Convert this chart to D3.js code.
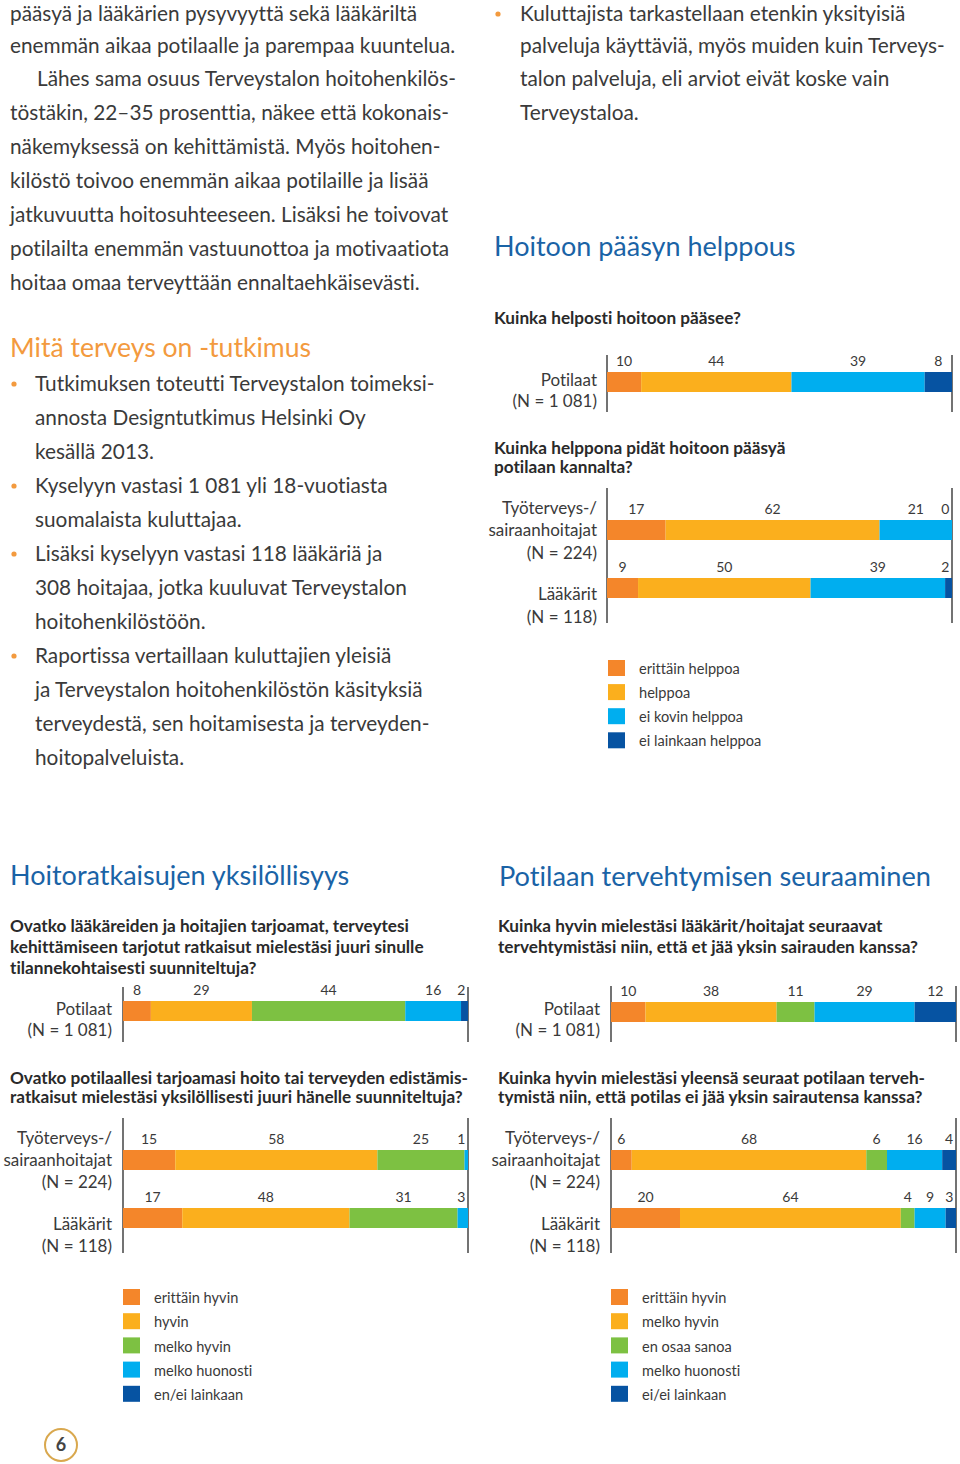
<!DOCTYPE html>
<html><head><meta charset="utf-8">
<script src="https://cdn.jsdelivr.net/npm/d3@7"></script>
<style>
html,body{margin:0;padding:0;background:#fff;}
svg{display:block;font-family:Lato,"Open Sans",sans-serif;font-variant-ligatures:none;}
</style></head>
<body>
<svg id="page" width="960" height="1464"></svg>
<script>
// ---------- DATA ----------
const accessKeys = ["erittäin helppoa","helppoa","ei kovin helppoa","ei lainkaan helppoa"];
const accessColors = ["#F4862A","#FBAF1D","#00AEEF","#0653A2"];
const accessPatients = [10,44,39,8];
const accessNurses = [17,62,21,0];
const accessDoctors = [9,50,39,2];

const indivKeys = ["erittäin hyvin","hyvin","melko hyvin","melko huonosti","en/ei lainkaan"];
const indivColors = ["#F4862A","#FBAF1D","#7DC142","#00AEEF","#0653A2"];
const indivPatients = [8,29,44,16,2];
const indivNurses = [15,58,25,1,null];
const indivDoctors = [17,48,31,3,null];

const followKeys = ["erittäin hyvin","melko hyvin","en osaa sanoa","melko huonosti","ei/ei lainkaan"];
const followColors = ["#F4862A","#FBAF1D","#7DC142","#00AEEF","#0653A2"];
const followPatients = [10,38,11,29,12];
const followNurses = [6,68,6,16,4];
const followDoctors = [20,64,4,9,3];

const groupPatients = ["Potilaat","(N = 1 081)"];
const groupNurses = ["Työterveys-/","sairaanhoitajat","(N = 224)"];
const groupDoctors = ["Lääkärit","(N = 118)"];

// ---------- TEXT ----------
const bodyLeft = [
  {t:"pääsyä ja lääkärien pysyvyyttä sekä lääkäriltä", x:10, y:14},
  {t:"enemmän aikaa potilaalle ja parempaa kuuntelua.", x:10, y:46},
  {t:"Lähes sama osuus Terveystalon hoitohenkilös-", x:37, y:79},
  {t:"töstäkin, 22–35 prosenttia, näkee että kokonais-", x:10, y:113},
  {t:"näkemyksessä on kehittämistä. Myös hoitohen-", x:10, y:147},
  {t:"kilöstö toivoo enemmän aikaa potilaille ja lisää", x:10, y:181},
  {t:"jatkuvuutta hoitosuhteeseen. Lisäksi he toivovat", x:10, y:215},
  {t:"potilailta enemmän vastuunottoa ja motivaatiota", x:10, y:249},
  {t:"hoitaa omaa terveyttään ennaltaehkäisevästi.", x:10, y:283}
];
const bulletsLeft = [
  {t:"Tutkimuksen toteutti Terveystalon toimeksi-", y:384, b:true},
  {t:"annosta Designtutkimus Helsinki Oy", y:418},
  {t:"kesällä 2013.", y:452},
  {t:"Kyselyyn vastasi 1 081 yli 18-vuotiasta", y:486, b:true},
  {t:"suomalaista kuluttajaa.", y:520},
  {t:"Lisäksi kyselyyn vastasi 118 lääkäriä ja", y:554, b:true},
  {t:"308 hoitajaa, jotka kuuluvat Terveystalon", y:588},
  {t:"hoitohenkilöstöön.", y:622},
  {t:"Raportissa vertaillaan kuluttajien yleisiä", y:656, b:true},
  {t:"ja Terveystalon hoitohenkilöstön käsityksiä", y:690},
  {t:"terveydestä, sen hoitamisesta ja terveyden-", y:724},
  {t:"hoitopalveluista.", y:758}
];
const bulletsRight = [
  {t:"Kuluttajista tarkastellaan etenkin yksityisiä", y:14, b:true},
  {t:"palveluja käyttäviä, myös muiden kuin Terveys-", y:46},
  {t:"talon palveluja, eli arviot eivät koske vain", y:79},
  {t:"Terveystaloa.", y:113}
];

const svg = d3.select("#page");
const textCol = "#3a3a3a";
const blue = "#1a63a6";
const orange = "#F39A3E";
const bodySize = 20.8;

function line(x, y, t, size, opts={}) {
  return svg.append("text")
    .attr("x", x).attr("y", y).attr("dy", "0.35em")
    .attr("font-size", size)
    .attr("font-weight", opts.bold ? 700 : 400)
    .attr("fill", opts.fill || textCol)
    .attr("text-anchor", opts.anchor || "start")
    .text(t);
}

// body text
bodyLeft.forEach(d => line(d.x, d.y, d.t, bodySize));
bulletsLeft.forEach(d => {
  line(35, d.y, d.t, bodySize);
  if (d.b) svg.append("circle").attr("cx", 14).attr("cy", d.y).attr("r", 2.6).attr("fill", orange);
});
bulletsRight.forEach(d => {
  line(520, d.y, d.t, bodySize);
  if (d.b) svg.append("circle").attr("cx", 498).attr("cy", d.y).attr("r", 2.6).attr("fill", orange);
});

// headings
line(10, 348, "Mitä terveys on -tutkimus", 26.6, {fill: orange});
line(494, 247, "Hoitoon pääsyn helppous", 27, {fill: blue});
line(10, 876, "Hoitoratkaisujen yksilöllisyys", 27, {fill: blue});
line(499, 876, "Potilaan tervehtymisen seuraaminen", 27.2, {fill: blue});

// questions
const qs = [
  [494, 318, "Kuinka helposti hoitoon pääsee?"],
  [494, 448, "Kuinka helppona pidät hoitoon pääsyä"],
  [494, 467, "potilaan kannalta?"],
  [10, 926, "Ovatko lääkäreiden ja hoitajien tarjoamat, terveytesi"],
  [10, 947, "kehittämiseen tarjotut ratkaisut mielestäsi juuri sinulle"],
  [10, 968, "tilannekohtaisesti suunniteltuja?"],
  [10, 1078, "Ovatko potilaallesi tarjoamasi hoito tai terveyden edistämis-"],
  [10, 1097, "ratkaisut mielestäsi yksilöllisesti juuri hänelle suunniteltuja?"],
  [498, 926, "Kuinka hyvin mielestäsi lääkärit/hoitajat seuraavat"],
  [498, 947, "tervehtymistäsi niin, että et jää yksin sairauden kanssa?"],
  [498, 1078, "Kuinka hyvin mielestäsi yleensä seuraat potilaan terveh-"],
  [498, 1097, "tymistä niin, että potilas ei jää yksin sairautensa kanssa?"]
];
qs.forEach(q => line(q[0], q[1], q[2], 17.2, {bold: true, fill: "#2a2a2a"}));

// ---------- CHARTS ----------
function chart(cfg) {
  const g = svg.append("g");
  [cfg.x0, cfg.x1].forEach(x => g.append("line")
    .attr("x1", x).attr("x2", x).attr("y1", cfg.axisTop).attr("y2", cfg.axisBottom)
    .attr("stroke", "#444").attr("stroke-width", 1.5));
  cfg.rows.forEach(row => {
    const total = d3.sum(row.values.map(v => v || 0));
    const x = d3.scaleLinear().domain([0, total]).range([cfg.x0, cfg.x1]);
    let acc = 0;
    const segs = row.values.map((v, i) => {
      const s = {v, i, a: acc, b: acc + (v || 0)}; acc += (v || 0); return s;
    });
    g.selectAll(null).data(segs.filter(s => s.v)).join("rect")
      .attr("x", s => x(s.a)).attr("width", s => x(s.b) - x(s.a))
      .attr("y", row.barY).attr("height", 20)
      .attr("fill", s => cfg.colors[s.i]);
    g.selectAll(null).data(segs.filter(s => s.v !== null)).join("text")
      .attr("x", s => Math.min((x(s.a) + x(s.b)) / 2, cfg.x1 - 3 - String(s.v).length * 3.6))
      .attr("y", row.barY - 6)
      .attr("text-anchor", "middle")
      .attr("font-size", 14).attr("fill", textCol)
      .text(s => s.v);
    row.labels.forEach((t, k) => line(cfg.labelX, row.labelYs[k], t, 17, {anchor: "end"}));
  });
}

chart({x0:607, x1:952, axisTop:355, axisBottom:412, labelX:597, colors:accessColors,
  rows:[{values:accessPatients, barY:372, labels:groupPatients, labelYs:[380,401]}]});
chart({x0:607, x1:952, axisTop:488, axisBottom:623, labelX:597, colors:accessColors,
  rows:[{values:accessNurses, barY:520, labels:groupNurses, labelYs:[508,530,553]},
        {values:accessDoctors, barY:578, labels:groupDoctors, labelYs:[594,617]}]});
chart({x0:123, x1:468, axisTop:987, axisBottom:1042, labelX:112, colors:indivColors,
  rows:[{values:indivPatients, barY:1001, labels:groupPatients, labelYs:[1009,1030]}]});
chart({x0:123, x1:468, axisTop:1118, axisBottom:1253, labelX:112, colors:indivColors,
  rows:[{values:indivNurses, barY:1150, labels:groupNurses, labelYs:[1138,1160,1182]},
        {values:indivDoctors, barY:1208, labels:groupDoctors, labelYs:[1224,1246]}]});
chart({x0:611, x1:956, axisTop:986, axisBottom:1042, labelX:600, colors:followColors,
  rows:[{values:followPatients, barY:1002, labels:groupPatients, labelYs:[1009,1030]}]});
chart({x0:611, x1:956, axisTop:1118, axisBottom:1253, labelX:600, colors:followColors,
  rows:[{values:followNurses, barY:1150, labels:groupNurses, labelYs:[1138,1160,1182]},
        {values:followDoctors, barY:1208, labels:groupDoctors, labelYs:[1224,1246]}]});

// ---------- LEGENDS ----------
function legend(x, y0, step, keys, colors) {
  const y = d3.scalePoint().domain(keys).range([y0, y0 + step * (keys.length - 1)]);
  keys.forEach((k, i) => {
    svg.append("rect").attr("x", x).attr("y", y(k) - 9).attr("width", 17).attr("height", 16)
      .attr("fill", colors[i]);
    line(x + 31, y(k), k, 14.6);
  });
}
legend(608, 669, 24.1, accessKeys, accessColors);
legend(123, 1298, 24.2, indivKeys, indivColors);
legend(611, 1298, 24.2, followKeys, followColors);

// page number
svg.append("circle").attr("cx", 61).attr("cy", 1445).attr("r", 16)
  .attr("fill", "none").attr("stroke", "#D9A84E").attr("stroke-width", 2);
line(61, 1445, "6", 18, {bold: true, anchor: "middle", fill: "#444"});
</script>
</body></html>
